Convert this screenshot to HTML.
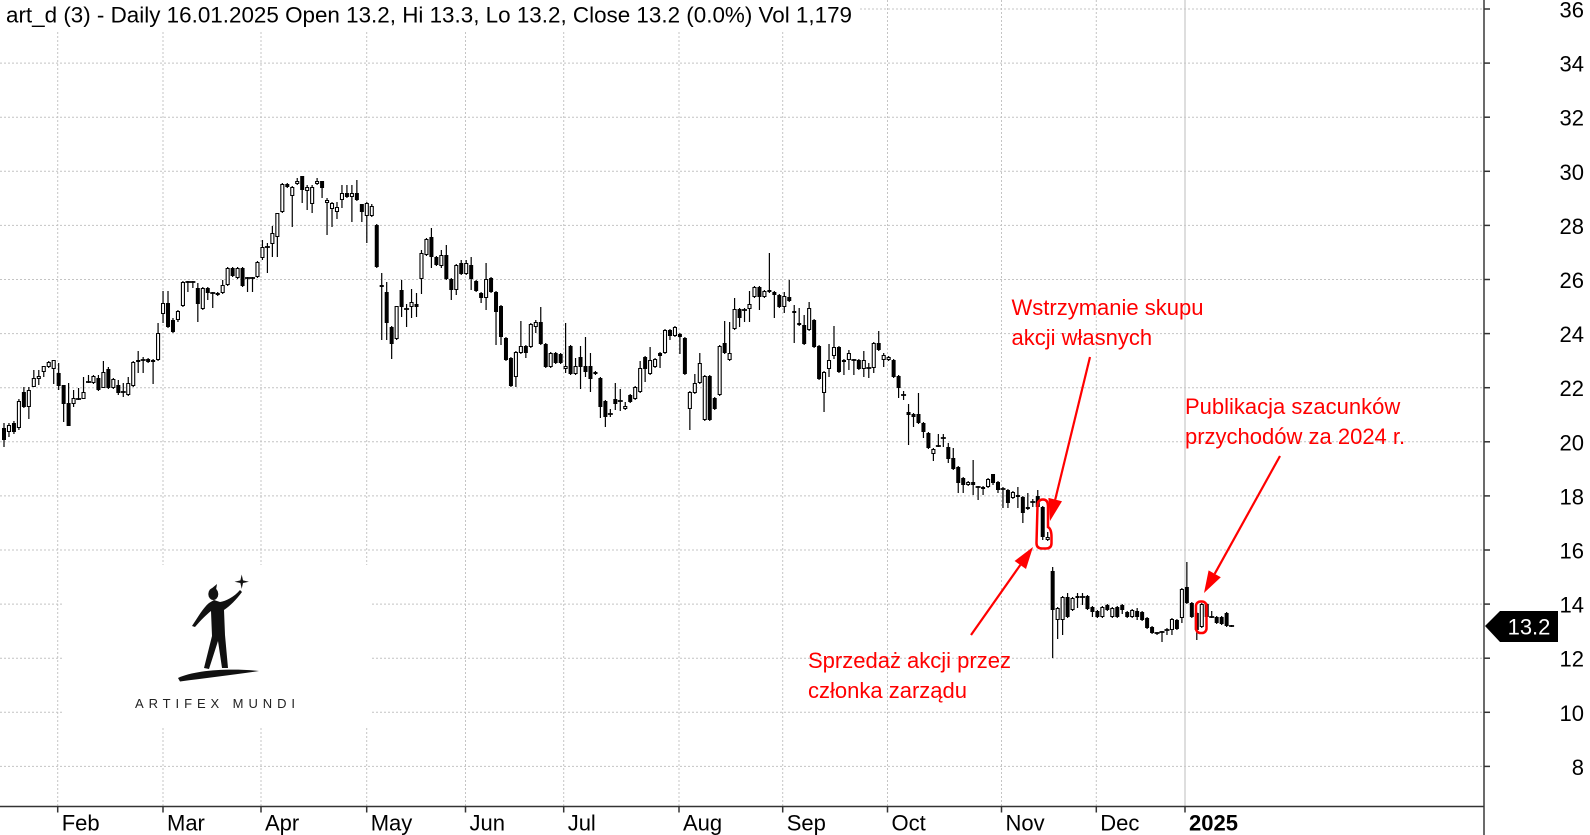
<!DOCTYPE html>
<html>
<head>
<meta charset="utf-8">
<style>
html,body{margin:0;padding:0;background:#fff;}
svg{display:block;}
text{font-family:"Liberation Sans",Arial,sans-serif;}
</style>
</head>
<body>
<svg width="1590" height="835" viewBox="0 0 1590 835">
<rect x="0" y="0" width="1590" height="835" fill="#fff"/>
<!-- horizontal gridlines -->
<g stroke="#c4c4c4" stroke-width="1" stroke-dasharray="2,2">
<line x1="0" y1="9" x2="1484" y2="9"/>
<line x1="0" y1="63.1" x2="1484" y2="63.1"/>
<line x1="0" y1="117.2" x2="1484" y2="117.2"/>
<line x1="0" y1="171.3" x2="1484" y2="171.3"/>
<line x1="0" y1="225.4" x2="1484" y2="225.4"/>
<line x1="0" y1="279.5" x2="1484" y2="279.5"/>
<line x1="0" y1="333.6" x2="1484" y2="333.6"/>
<line x1="0" y1="387.7" x2="1484" y2="387.7"/>
<line x1="0" y1="441.8" x2="1484" y2="441.8"/>
<line x1="0" y1="495.9" x2="1484" y2="495.9"/>
<line x1="0" y1="550" x2="1484" y2="550"/>
<line x1="0" y1="604.1" x2="1484" y2="604.1"/>
<line x1="0" y1="658.2" x2="1484" y2="658.2"/>
<line x1="0" y1="712.3" x2="1484" y2="712.3"/>
<line x1="0" y1="766.4" x2="1484" y2="766.4"/>
</g>
<!-- vertical gridlines -->
<g stroke="#c4c4c4" stroke-width="1" stroke-dasharray="2,2">
<line x1="57.7" y1="0" x2="57.7" y2="806"/>
<line x1="163" y1="0" x2="163" y2="806"/>
<line x1="261" y1="0" x2="261" y2="806"/>
<line x1="366.7" y1="0" x2="366.7" y2="806"/>
<line x1="465.5" y1="0" x2="465.5" y2="806"/>
<line x1="563.7" y1="0" x2="563.7" y2="806"/>
<line x1="679" y1="0" x2="679" y2="806"/>
<line x1="782.7" y1="0" x2="782.7" y2="806"/>
<line x1="887.5" y1="0" x2="887.5" y2="806"/>
<line x1="1001.5" y1="0" x2="1001.5" y2="806"/>
<line x1="1096.3" y1="0" x2="1096.3" y2="806"/>
</g>
<line x1="1185" y1="0" x2="1185" y2="806" stroke="#c8c8c8" stroke-width="1.2"/>

<!-- title box -->
<rect x="0" y="0" width="858" height="30" fill="#fff"/>
<text x="6" y="22.5" font-size="22" fill="#000" textLength="846" lengthAdjust="spacingAndGlyphs">art_d (3) - Daily 16.01.2025 Open 13.2, Hi 13.3, Lo 13.2, Close 13.2 (0.0%) Vol 1,179</text>

<!-- logo box -->
<rect x="62" y="565" width="310" height="163" fill="#fff"/>
<g fill="#111">
<path d="M241.7,574.5 L243,580.4 L248.9,581.7 L243,583 L241.7,588.9 L240.4,583 L234.5,581.7 L240.4,580.4 Z"/>
<ellipse cx="213.3" cy="594" rx="5" ry="6"/>
<path d="M211,589 L217,584 L216,590 Z"/>
<path d="M209,603 C203,608 198,617 192,626 L195,627 C201,620 206,615 211,611 L212,636 L204,668 L209,669 L218,641 L222,668 L228,668 L225,635 L224,610 C230,606 236,600 242,592 L240,590 C234,597 226,601 220,602 L214,600 Z"/>
<path d="M178,678 C195,670 230,668 259,671 C235,674.5 205,678 180,681.5 Z"/>
</g>
<text x="135" y="708" font-size="13" fill="#222" textLength="160" lengthAdjust="spacing">ARTIFEX MUNDI</text>

<!-- candles -->
<g id="candles">
<path id="wk" d="" stroke="#000" stroke-width="1.2" fill="none"/>
<path id="hl" d="" stroke="#000" stroke-width="1.1" fill="#fff"/>
<path id="bk" d="" fill="#000"/>
<path id="ds" d="" stroke="#000" stroke-width="1.7" fill="none"/>
</g>

<!-- axes -->
<line x1="0" y1="806.5" x2="1484" y2="806.5" stroke="#333" stroke-width="1.5"/>
<line x1="1484" y1="0" x2="1484" y2="835" stroke="#3a3a3a" stroke-width="1.5"/>
<g stroke="#333" stroke-width="1.5">
<line x1="1484" y1="9" x2="1490" y2="9"/>
<line x1="1484" y1="63.1" x2="1490" y2="63.1"/>
<line x1="1484" y1="117.2" x2="1490" y2="117.2"/>
<line x1="1484" y1="171.3" x2="1490" y2="171.3"/>
<line x1="1484" y1="225.4" x2="1490" y2="225.4"/>
<line x1="1484" y1="279.5" x2="1490" y2="279.5"/>
<line x1="1484" y1="333.6" x2="1490" y2="333.6"/>
<line x1="1484" y1="387.7" x2="1490" y2="387.7"/>
<line x1="1484" y1="441.8" x2="1490" y2="441.8"/>
<line x1="1484" y1="495.9" x2="1490" y2="495.9"/>
<line x1="1484" y1="550" x2="1490" y2="550"/>
<line x1="1484" y1="604.1" x2="1490" y2="604.1"/>
<line x1="1484" y1="658.2" x2="1490" y2="658.2"/>
<line x1="1484" y1="712.3" x2="1490" y2="712.3"/>
<line x1="1484" y1="766.4" x2="1490" y2="766.4"/>
<line x1="57.7" y1="806" x2="57.7" y2="812.5"/>
<line x1="163" y1="806" x2="163" y2="812.5"/>
<line x1="261" y1="806" x2="261" y2="812.5"/>
<line x1="366.7" y1="806" x2="366.7" y2="812.5"/>
<line x1="465.5" y1="806" x2="465.5" y2="812.5"/>
<line x1="563.7" y1="806" x2="563.7" y2="812.5"/>
<line x1="679" y1="806" x2="679" y2="812.5"/>
<line x1="782.7" y1="806" x2="782.7" y2="812.5"/>
<line x1="887.5" y1="806" x2="887.5" y2="812.5"/>
<line x1="1001.5" y1="806" x2="1001.5" y2="812.5"/>
<line x1="1096.3" y1="806" x2="1096.3" y2="812.5"/>
<line x1="1185" y1="806" x2="1185" y2="812.5"/>
</g>
<g font-size="22" fill="#000" text-anchor="end">
<text x="1584" y="17.5">36</text>
<text x="1584" y="71.6">34</text>
<text x="1584" y="125.7">32</text>
<text x="1584" y="179.8">30</text>
<text x="1584" y="233.9">28</text>
<text x="1584" y="288">26</text>
<text x="1584" y="342.1">24</text>
<text x="1584" y="396.2">22</text>
<text x="1584" y="450.3">20</text>
<text x="1584" y="504.4">18</text>
<text x="1584" y="558.5">16</text>
<text x="1584" y="612.6">14</text>
<text x="1584" y="666.7">12</text>
<text x="1584" y="720.8">10</text>
<text x="1584" y="774.9">8</text>
</g>
<g font-size="22" fill="#000">
<text x="61.7" y="830.5">Feb</text>
<text x="167" y="830.5">Mar</text>
<text x="265" y="830.5">Apr</text>
<text x="370.7" y="830.5">May</text>
<text x="469.5" y="830.5">Jun</text>
<text x="567.7" y="830.5">Jul</text>
<text x="683" y="830.5">Aug</text>
<text x="786.7" y="830.5">Sep</text>
<text x="891.5" y="830.5">Oct</text>
<text x="1005.5" y="830.5">Nov</text>
<text x="1100.3" y="830.5">Dec</text>
<text x="1189" y="830.5" font-weight="bold">2025</text>
</g>

<!-- last price label -->
<polygon points="1485,626 1500,611 1558,611 1558,642 1500,642" fill="#000"/>
<text x="1529" y="634.5" font-size="22" fill="#fff" text-anchor="middle">13.2</text>

<!-- annotations -->
<g stroke="#ff0000" stroke-width="2.5" fill="none">
<path d="M1037.5,506 Q1037.5,499.5 1043,499.5 Q1048,499.5 1048,506 L1048,527 Q1051.5,529 1051.5,537 L1051.5,543 Q1051.5,548.5 1046,548.5 L1042,548.5 Q1036.5,548.5 1036.5,543 Z"/>
<rect x="1196" y="601.5" width="10.5" height="31.5" rx="4.5"/>
</g>
<g stroke="#ff0000" stroke-width="2.2">
<line x1="1090" y1="357" x2="1055.2" y2="499.6"/>
<line x1="971" y1="635" x2="1020.3" y2="565"/>
<line x1="1280" y1="456" x2="1214.7" y2="573.8"/>
</g>
<g fill="#ff0000">
<polygon points="1050,521 1062,501.3 1048.4,497.9"/>
<polygon points="1033,547 1026,569 1014.6,561"/>
<polygon points="1204,593 1220.8,577.2 1208.6,570.4"/>
</g>
<g font-size="22" fill="#ff0000">
<text x="1011.5" y="315">Wstrzymanie skupu</text>
<text x="1011.5" y="345">akcji własnych</text>
<text x="808" y="668">Sprzedaż akcji przez</text>
<text x="808" y="698">członka zarządu</text>
<text x="1185" y="414">Publikacja szacunków</text>
<text x="1185" y="444">przychodów za 2024 r.</text>
</g>
</svg>
<script>
(function(){
var d="B428,440,423,447;H425,432,423,437;B423,432,421,434;H401,428,399,430;B392,407,387,408;H390,407,387,419;H378,387,370,387;H376,379,370,385;H366,372,366,377;H362,367,361,368;H360,369,360,384;B373,386,363,390;B385,404,385,422;B403,426,383,426;H398,404,390,407;D399,399,388,400;H392,399,377,399;D382,382,375,383;H376,383,375,384;B378,390,375,391;H372,388,361,388;B369,388,367,389;H379,388,378,389;B385,393,380,395;D392,392,383,397;H383,395,377,396;H362,386,361,387;H360,362,351,373;D360,360,357,373;B359,362,358,363;H360,362,359,384;H333,360,323,361;H303,314,291,323;B303,327,291,328;B320,332,318,333;H311,320,310,322;H282,306,281,307;D282,282,281,292;D282,282,281,288;B288,304,283,322;H288,309,287,310;B288,293,287,300;D293,293,292,308;H293,295,292,296;H285,293,280,294;H268,285,267,286;B268,276,267,277;H268,278,267,279;B268,286,267,287;D278,278,277,292;D278,278,277,292;H262,277,261,278;H247,258,240,260;D247,247,243,273;H233,244,226,257;H213,237,213,257;H184,212,183,213;B184,187,183,188;H187,196,186,227;H181,184,178,185;B176,190,176,203;H187,191,185,210;H187,204,185,213;H181,184,178,185;B181,188,181,198;H200,203,198,235;H203,209,202,227;H207,212,202,219;H193,200,185,208;B193,197,185,198;H193,197,185,222;B193,200,180,201;B204,212,204,222;H203,216,202,243;H206,216,204,217;B225,267,224,268;H285,287,273,340;B292,323,282,340;B327,344,326,359;H306,339,306,340;B290,307,280,317;D309,309,304,327;H302,307,289,318;B304,307,293,317;H253,279,250,294;H239,255,238,256;B237,257,228,268;B257,265,256,266;H255,266,250,268;B255,279,245,280;B279,290,278,300;H265,290,264,295;B263,274,260,275;H263,274,260,275;B265,279,257,290;B281,291,280,292;B293,298,292,303;H279,298,263,310;B278,292,277,293;B292,312,291,345;B306,337,305,345;B338,360,337,361;B358,386,357,387;H352,377,351,387;H346,353,321,354;B346,353,345,358;H324,347,323,348;H322,327,320,333;B322,344,307,345;B344,367,343,368;H353,367,352,368;B353,363,352,364;B354,363,353,364;H366,369,323,373;B346,374,345,375;H366,374,358,375;B357,367,346,389;B366,372,337,377;B366,379,353,392;H372,374,371,375;B378,407,377,418;B401,417,400,427;D414,414,409,417;B399,404,383,410;D401,401,389,411;H406,409,402,410;B395,402,394,403;H387,399,386,400;H368,392,361,393;B357,369,356,382;H360,374,347,375;H359,367,358,368;B353,356,352,368;H330,353,329,354;B330,336,329,340;H327,336,326,337;B334,337,333,354;B338,374,337,375;H392,409,391,430;H383,393,374,394;H363,383,353,384;H376,420,375,421;B376,420,375,421;B398,409,397,410;H346,395,345,396;B343,353,321,354;H353,360,322,361;H309,329,298,330;B309,318,308,327;D310,310,308,322;H304,309,291,322;H287,297,286,298;B287,297,286,310;H291,297,290,298;B290,292,253,293;B292,295,291,318;B295,307,294,308;H296,307,292,313;B297,301,280,302;B311,313,305,343;B323,325,308,326;B325,344,315,345;H308,330,302,331;B320,347,319,348;B346,379,345,380;H372,393,371,412;H360,369,344,377;H347,356,326,359;B347,372,346,373;H360,362,359,375;H353,360,350,370;D360,360,359,375;B360,369,359,370;H360,369,351,377;D368,368,363,378;H343,368,342,373;B343,350,331,351;H355,360,353,367;H357,360,356,361;B360,377,359,378;B376,388,375,398;D395,395,391,400;B412,415,404,445;B414,417,413,427;B414,423,393,424;B423,432,422,438;B433,448,432,449;H449,454,448,461;D446,446,434,447;D438,438,434,447;B447,459,443,463;B458,469,448,470;B467,483,466,493;B478,485,477,493;H482,485,481,486;B482,485,460,495;D487,487,486,500;B487,489,486,495;H479,487,478,488;B474,483,474,485;B482,490,481,493;D489,489,487,508;B490,503,489,508;H492,498,491,499;H495,497,487,508;B497,513,496,523;H507,509,493,510;D502,502,499,507;B496,507,490,508;B507,537,506,540;H537,540,532,541;B571,610,567,658;H608,620,607,639;H597,620,596,635;B597,617,593,618;H598,610,597,611;H596,598,593,608;D597,597,593,605;B596,609,595,610;B607,612,606,617;B611,617,610,618;H607,617,606,618;B605,610,604,611;H608,617,607,618;B607,617,606,618;B605,610,604,614;B612,617,611,618;H610,617,609,618;B611,617,608,620;B612,620,611,621;B618,628,617,629;B627,633,626,634;D633,633,632,635;D632,632,631,642;D630,630,628,635;H619,630,618,635;B620,629,619,630;H589,618,588,623;B587,603,562,604;B603,617,602,618;B613,630,612,640;H604,627,603,628;B604,617,603,618;D617,617,611,618;B617,623,616,624;B617,624,616,625;B613,626,612,627;D626,626,625,627";
var parts=d.split(';');
var wk='',hl='',bk='',ds='';
for(var i=0;i<parts.length;i++){
var s=parts[i];var t=s.charAt(0);var v=s.substring(1).split(',');
var a=+v[0],b=+v[1],h=+v[2],l=+v[3];
var x=4+i*4.97;
wk+='M'+x.toFixed(2)+','+h+'V'+l;
if(t==='B'){bk+='M'+(x-2).toFixed(2)+','+a+'h4V'+Math.max(b,a+1.5)+'h-4Z';}
else if(t==='H'){hl+='M'+(x-1.5).toFixed(2)+','+(a+0.5)+'h3V'+Math.max(b-0.5,a+1.5)+'h-3Z';}
else{ds+='M'+(x-2.5).toFixed(2)+','+a+'h5';}
}
document.getElementById('wk').setAttribute('d',wk);
document.getElementById('hl').setAttribute('d',hl);
document.getElementById('bk').setAttribute('d',bk);
document.getElementById('ds').setAttribute('d',ds);
})();
</script>
</body>
</html>
